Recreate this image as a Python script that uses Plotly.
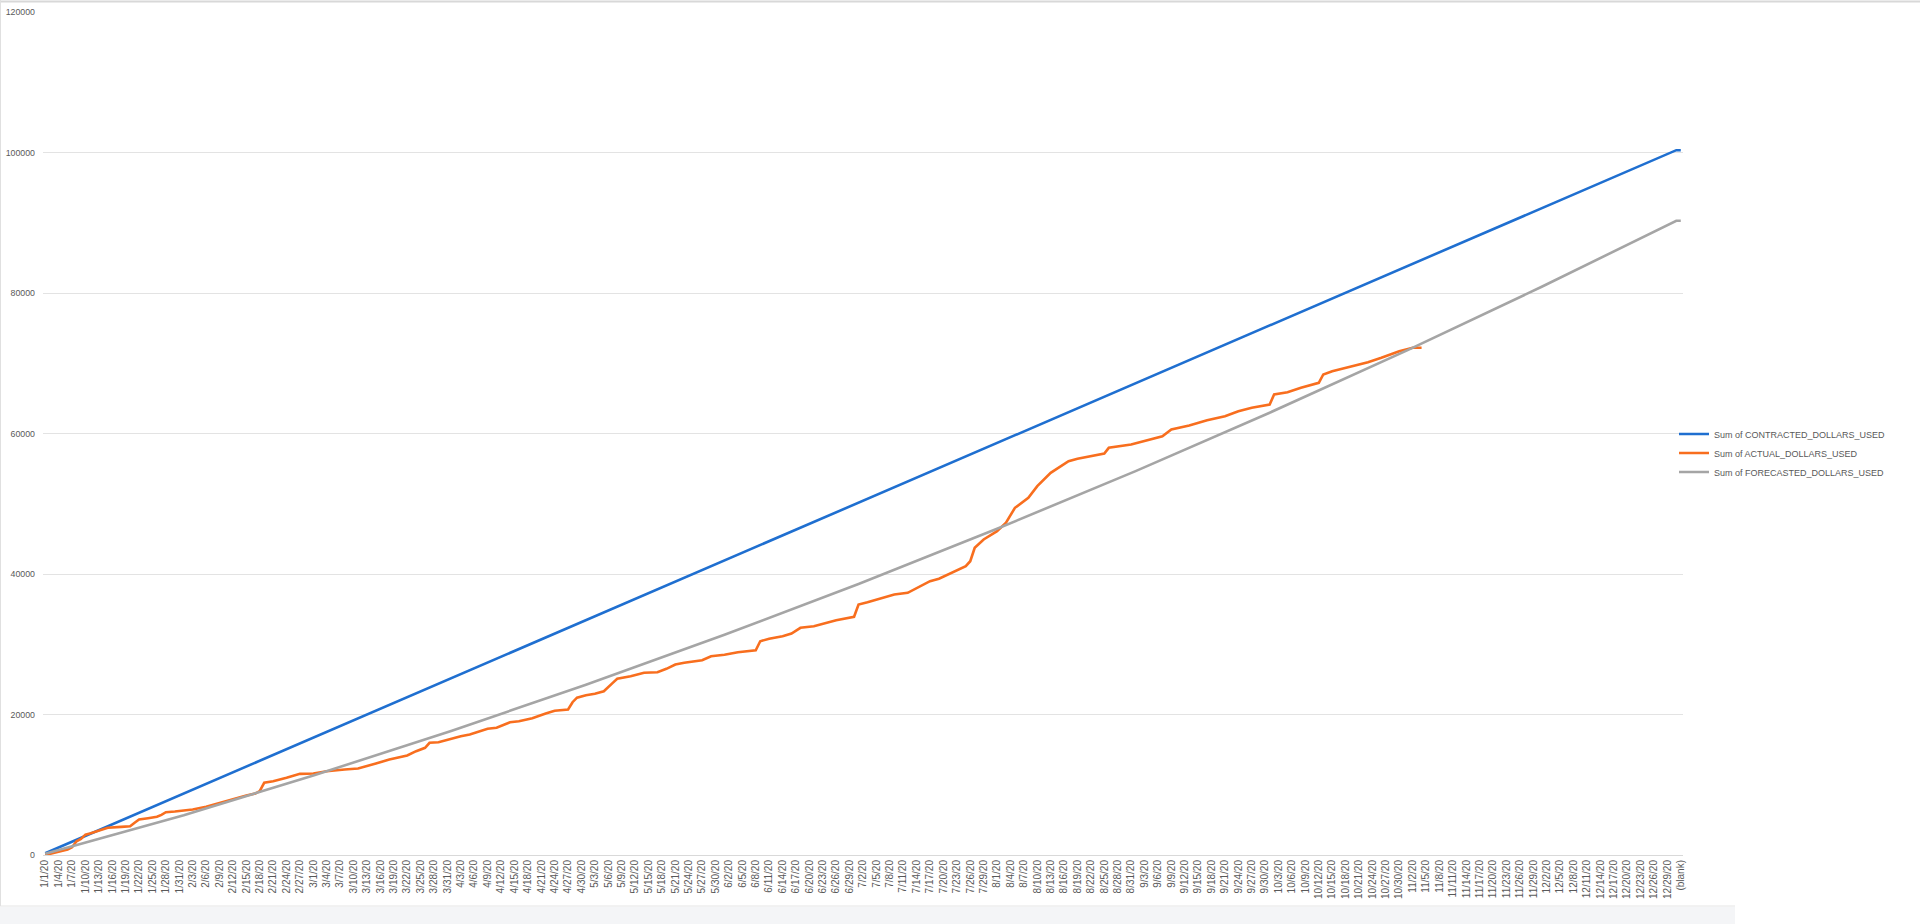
import pandas as pd
import plotly.graph_objects as go

# ---- categories (one per day of 2020, plus the pivot's "(blank)" bucket) ----
DATES = pd.date_range("2020-01-01", "2020-12-31", freq="D")
CATEGORIES = [f"{d.month}/{d.day}/20" for d in DATES] + ["(blank)"]
TICK_LABELS = CATEGORIES[::3]

# ---- series values (day index since 1/1/20 -> value) ----
CONTRACTED_DAY = [0, 31, 60, 91, 121, 152, 182, 213, 244, 274, 305, 335, 365, 366]
CONTRACTED_VAL = [250, 8750, 16700, 25200, 33430, 41930, 50150, 58650, 67150,
                  75380, 83880, 92110, 100330, 100330]

FORECAST_DAY = [0, 31, 60, 91, 121, 152, 182, 213, 244, 274, 305, 335, 365, 366]
FORECAST_VAL = [180, 5670, 11310, 17700, 24230, 31350, 38590, 46440, 54650,
                62960, 71910, 80920, 90280, 90280]

ACTUAL_DAY = [0, 5, 6, 7, 8, 9, 10, 14, 17, 19, 20, 21, 23, 25, 26, 27, 29, 33, 36,
              39, 42, 45, 47, 48, 49, 51, 54, 57, 60, 63, 67, 70, 74, 77, 81, 83,
              85, 86, 88, 90, 93, 95, 97, 99, 101, 104, 106, 109, 112, 114, 117,
              118, 119, 121, 123, 125, 127, 128, 131, 134, 137, 139, 141, 143,
              147, 149, 152, 155, 159, 160, 162, 165, 167, 169, 172, 174, 177,
              181, 182, 184, 186, 190, 193, 196, 198, 200, 203, 206, 207, 208,
              210, 213, 215, 217, 220, 222, 225, 229, 231, 234, 237, 238, 243,
              250, 252, 256, 260, 264, 267, 270, 274, 275, 278, 281, 285, 286,
              288, 292, 296, 299, 303, 306, 308]
ACTUAL_VAL = [0, 780, 1100, 1960, 2300, 2900, 3060, 3870, 4010, 4100, 4600, 5050,
              5240, 5440, 5720, 6090, 6190, 6480, 6860, 7430, 8000, 8470, 8750,
              9100, 10280, 10500, 10990, 11550, 11600, 11930, 12170, 12310, 13020,
              13590, 14160, 14780, 15260, 15970, 16060, 16440, 16910, 17150, 17580,
              17960, 18110, 18900, 19050, 19470, 20140, 20530, 20710, 21750, 22400,
              22750, 22950, 23300, 24500, 25080, 25450, 25940, 26020, 26500, 27120,
              27360, 27730, 28300, 28500, 28870, 29150, 30430, 30770, 31150, 31530,
              32340, 32570, 32950, 33420, 33910, 35660, 35990, 36370, 37080, 37320,
              38270, 38980, 39320, 40170, 41110, 41820, 43730, 44910, 46090, 47290,
              49420, 50850, 52500, 54400, 56060, 56400, 56770, 57150, 57960, 58430,
              59610, 60570, 61140, 61900, 62470, 63180, 63660, 64130, 65550, 65880,
              66510, 67220, 68400, 68870, 69490, 70150, 70770, 71710, 72200, 72200]

SERIES_NAMES = ["Sum of CONTRACTED_DOLLARS_USED",
                "Sum of ACTUAL_DOLLARS_USED",
                "Sum of FORECASTED_DOLLARS_USED"]
COLORS = ["#1F6FD0", "#F86E1E", "#A5A5A5"]

Y_TICKS = [0, 20000, 40000, 60000, 80000, 100000, 120000]

fig = go.Figure()
for name, days, vals, col in [
    (SERIES_NAMES[0], CONTRACTED_DAY, CONTRACTED_VAL, COLORS[0]),
    (SERIES_NAMES[1], ACTUAL_DAY, ACTUAL_VAL, COLORS[1]),
    (SERIES_NAMES[2], FORECAST_DAY, FORECAST_VAL, COLORS[2]),
]:
    fig.add_trace(go.Scatter(
        x=[CATEGORIES[d] for d in days], y=vals, name=name, mode="lines",
        line=dict(color=col, width=2.6), hoverinfo="x+y+name"))

W, H = 1920, 924
L, R, T, B = 43, 237, 12, 69
plot_w = W - L - R
plot_h = H - T - B

def px_x(X):
    return (X - L) / plot_w

def px_y(Y):
    return (H - B - Y) / plot_h

fig.update_layout(
    width=W, height=H,
    margin=dict(l=L, r=R, t=T, b=B, pad=0, autoexpand=False),
    paper_bgcolor="white", plot_bgcolor="white",
    font=dict(family="Liberation Sans, Arial, sans-serif", color="#595959", size=9),
    showlegend=True,
    legend=dict(x=px_x(1674), xanchor="left", y=px_y(453), yanchor="middle",
                font=dict(size=9, color="#595959"), bgcolor="rgba(0,0,0,0)",
                tracegroupgap=0, itemwidth=30),
    xaxis=dict(type="category", categoryorder="array", categoryarray=CATEGORIES,
               range=[-0.5, len(CATEGORIES) - 0.5],
               tickmode="array", tickvals=TICK_LABELS, ticktext=TICK_LABELS,
               tickangle=-90, tickfont=dict(size=10, color="#595959"),
               showgrid=False, showline=True, linecolor="#D9D9D9", linewidth=1,
               ticks="", zeroline=False, fixedrange=True, automargin=False),
    yaxis=dict(range=[0, 120000], tickmode="array", tickvals=Y_TICKS,
               tickformat="d", tickfont=dict(size=8.8, color="#595959"),
               showgrid=True, gridcolor="#E3E3E3", gridwidth=1,
               zeroline=False, showline=False, ticks="", ticklabelstandoff=7,
               fixedrange=True, automargin=False),
    shapes=[
        # light grey strip under the chart frame
        dict(type="rect", xref="paper", yref="paper", x0=px_x(0), x1=px_x(1735),
             y0=px_y(924), y1=px_y(907), fillcolor="#F4F5F7", line=dict(width=0),
             layer="below"),
        dict(type="line", xref="paper", yref="paper", x0=px_x(0), x1=px_x(1735),
             y0=px_y(906), y1=px_y(906), line=dict(color="#E4E4E4", width=1)),
        dict(type="line", xref="paper", yref="paper", x0=px_x(0), x1=px_x(1920),
             y0=px_y(1.5), y1=px_y(1.5), line=dict(color="#D8D8D8", width=2)),
        dict(type="line", xref="paper", yref="paper", x0=px_x(0.5), x1=px_x(0.5),
             y0=px_y(0), y1=px_y(906), line=dict(color="#E0E0E0", width=1)),
    ],
)

fig.write_html("out.html", config={"displayModeBar": False},
               post_script="document.body.style.margin='0';document.body.style.overflow='hidden';")
